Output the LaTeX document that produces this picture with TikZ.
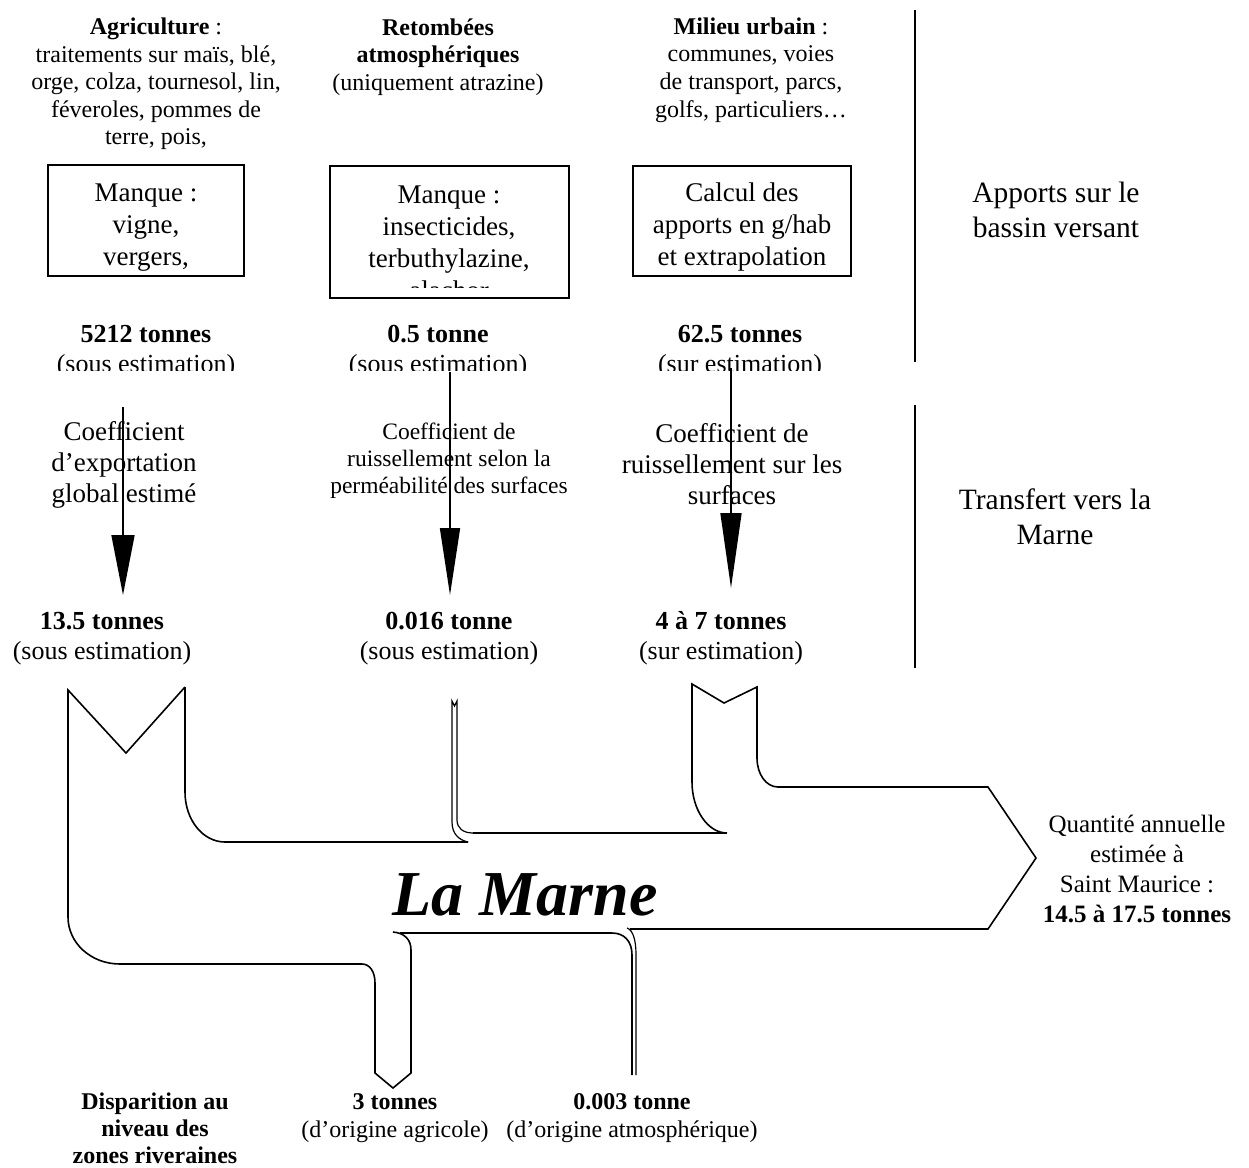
\documentclass[tikz,border=0pt]{standalone}
\usepackage{fontspec}
\setmainfont{Liberation Serif}
\usetikzlibrary{arrows.meta}
\begin{document}
\begin{tikzpicture}[x=1pt,y=-1pt,
  txt/.style={inner sep=0pt, align=center},
  topt/.style={txt, font=\fontsize{24}{27.6}\selectfont},
  boxt/.style={txt, font=\fontsize{27}{32}\selectfont},
  qty/.style={txt, font=\fontsize{26}{30}\selectfont},
  coefbig/.style={txt, font=\fontsize{27}{31}\selectfont},
  coefsmall/.style={txt, font=\fontsize{23.5}{27}\selectfont},
  sidelbl/.style={txt, font=\fontsize{29.5}{35}\selectfont},
  bott/.style={txt, font=\fontsize{24}{27.5}\selectfont},
  boxframe/.style={draw, line width=1.5pt, inner sep=0pt},
  river/.style={line width=1.6pt, line join=miter},
  thinriver/.style={line width=1.2pt},
  sepline/.style={line width=2pt},
  flowarrow/.style={line width=1.6pt},
]
\useasboundingbox (0,0) rectangle (1249,1167);

% ---- top sources
\node[topt] (agri) at (156,84) {\textbf{Agriculture} :\\traitements sur maïs, blé,\\orge, colza, tournesol, lin,\\féveroles, pommes de\\terre, pois,};
\node[topt] (atmo) at (438,57) {\textbf{Retombées}\\\textbf{atmosphériques}\\(uniquement atrazine)};
\node[topt] (urb) at (751,70) {\textbf{Milieu urbain} :\\communes, voies\\de transport, parcs,\\golfs, particuliers…};

% ---- boxes
\node[boxframe, minimum width=196pt, minimum height=111pt] (b1) at (146,220.5) {};
\node[boxframe, minimum width=239pt, minimum height=132pt] (b2) at (449.5,232) {};
\node[boxframe, minimum width=218pt, minimum height=110pt] (b3) at (742,221) {};
\node[boxt] (b1t) at (146,227.5) {Manque :\\vigne,\\vergers,};
\begin{scope}
  \clip (331,167) rectangle (568,287);
  \node[boxt] (b2t) at (449,242.5) {Manque :\\insecticides,\\terbuthylazine,\\alachor};
\end{scope}
\node[boxt] (b3t) at (742,227.5) {Calcul des\\apports en g/hab\\et extrapolation};

% ---- quantities (clipped)
\begin{scope}
  \clip (0,300) rectangle (900,370);
  \node[qty] (q1) at (146,351.5) {\textbf{5212 tonnes}\\(sous estimation)};
  \node[qty] (q2) at (438,351.5) {\textbf{0.5 tonne}\\(sous estimation)};
  \node[qty] (q3) at (740,351.5) {\textbf{62.5 tonnes}\\(sur estimation)};
\end{scope}

% ---- coefficients
\node[coefbig] (c1) at (124,465) {Coefficient\\d’exportation\\global estimé};
\node[coefsmall] (c2) at (449,461) {Coefficient de\\ruissellement selon la\\perméabilité des surfaces};
\node[coefbig] (c3) at (732,464) {Coefficient de\\ruissellement sur les\\surfaces};

% ---- arrows
\coordinate (a1s) at (123,407); \coordinate (a1e) at (123,595);
\coordinate (a2s) at (450,372); \coordinate (a2e) at (450,595);
\coordinate (a3s) at (731,368); \coordinate (a3e) at (731,588);
\draw[flowarrow, -{Triangle[length=60pt,width=23pt]}] (a1s) -- (a1e);
\draw[flowarrow, -{Triangle[length=67pt,width=20pt]}] (a2s) -- (a2e);
\draw[flowarrow, -{Triangle[length=75pt,width=21pt]}] (a3s) -- (a3e);

% ---- transferred quantities
\node[qty] (r1) at (102,638.5) {\textbf{13.5 tonnes}\\(sous estimation)};
\node[qty] (r2) at (449,638.5) {\textbf{0.016 tonne}\\(sous estimation)};
\node[qty] (r3) at (721,638.5) {\textbf{4 à 7 tonnes}\\(sur estimation)};

% ---- right side
\coordinate (s1a) at (915,10); \coordinate (s1b) at (915,362);
\coordinate (s2a) at (915,405); \coordinate (s2b) at (915,668);
\draw[sepline] (s1a) -- (s1b);
\draw[sepline] (s2a) -- (s2b);
\node[sidelbl] (lab1) at (1056,210) {Apports sur le\\bassin versant};
\node[sidelbl] (lab2) at (1055,517) {Transfert vers la\\Marne};

% ---- river
\draw[river] (185,687) -- (126,753) -- (68,690) -- (68,917)
  .. controls (68,943) and (91,964) .. (120,964) -- (362,964)
  .. controls (370,964) and (375,972) .. (375,983) -- (375,1073)
  -- (393,1088) -- (411,1073) -- (411,950)
  .. controls (411,939) and (404,933) .. (393,932);
\draw[river] (400,933) -- (612,933) .. controls (624,933) and (632,941) .. (632,955) -- (632,1075);
\draw[river] (185,687) -- (185,792) .. controls (185,820) and (203,842) .. (225,842) -- (468,842);
\draw[thinriver] (468,842) .. controls (459,840) and (452,834) .. (452,822) -- (452,701)
  -- (454.5,706) -- (457,701) -- (457,820)
  .. controls (457,828) and (463,833) .. (473,833);
\draw[river] (473,833) -- (727,833);
\draw[river] (727,833) .. controls (708,833) and (692,810) .. (692,782) -- (692,684)
  -- (724,703) -- (757,687) -- (757,758)
  .. controls (757,774) and (766,787) .. (778,787) -- (988,787)
  -- (1036,858) -- (988,929) -- (630,929);
\draw[thinriver] (627,928) .. controls (633,930) and (636,940) .. (636,955) -- (636,1075);

\node[font=\fontsize{64}{70}\selectfont\bfseries\itshape, inner sep=0pt, anchor=base] (marne) at (525,915) {La Marne};

\node[qty, font=\fontsize{25}{30}\selectfont] (out) at (1137,868.5) {Quantité annuelle\\estimée à\\Saint Maurice :\\\textbf{14.5 à 17.5 tonnes}};

% ---- bottom
\node[bott, font=\fontsize{24}{27}\selectfont] (dis) at (155,1128) {\textbf{Disparition au}\\\textbf{niveau des}\\\textbf{zones riveraines}};
\node[bott] (o1) at (395,1118) {\textbf{3 tonnes}\\(d’origine agricole)};
\node[bott] (o2) at (632,1118) {\textbf{0.003 tonne}\\(d’origine atmosphérique)};
\end{tikzpicture}
\end{document}
